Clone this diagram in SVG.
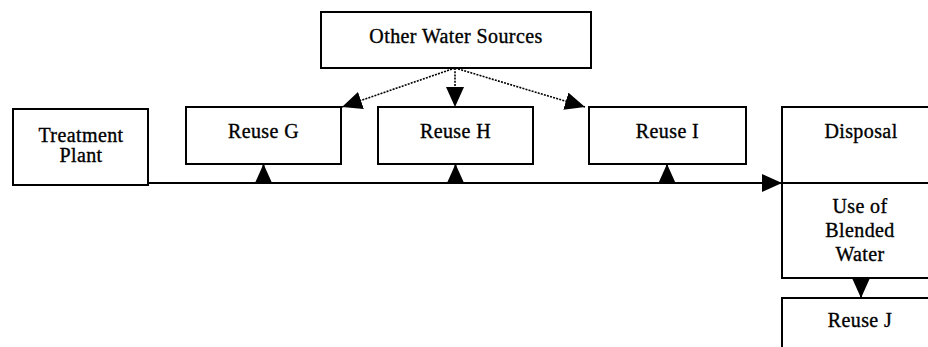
<svg xmlns="http://www.w3.org/2000/svg" width="928" height="347" viewBox="0 0 928 347">
<style>
.box{fill:#fff;stroke:#000;stroke-width:2}
.t{font-family:'Liberation Serif','DejaVu Serif',serif;font-size:20px;letter-spacing:0.4px;fill:#000;stroke:#000;stroke-width:0.35;text-anchor:middle}
.solid{fill:none;stroke:#000;stroke-width:2}
.dot{fill:none;stroke:#000;stroke-width:1.6;stroke-dasharray:2 1.2}
</style>
<defs>
<marker id="ah" markerUnits="userSpaceOnUse" markerWidth="20" markerHeight="18" refX="20" refY="9" orient="auto">
<path d="M0,0 L20,9 L0,18 z" fill="#000"/>
</marker>
</defs>
<g id="other-water-sources">
<rect class="box" x="321" y="12" width="270" height="56"/>
<text class="t" x="456" y="43">Other Water Sources</text>
</g>
<g id="treatment-plant">
<rect class="box" x="13" y="109" width="135" height="76"/>
<text class="t" x="81" y="142">Treatment</text>
<text class="t" x="81" y="162">Plant</text>
</g>
<g id="reuse-g">
<rect class="box" x="186" y="107" width="155" height="57"/>
<text class="t" x="263.5" y="138">Reuse G</text>
</g>
<g id="reuse-h">
<rect class="box" x="378" y="107" width="155" height="57"/>
<text class="t" x="455.5" y="138">Reuse H</text>
</g>
<g id="reuse-i">
<rect class="box" x="589" y="107" width="157" height="57"/>
<text class="t" x="667.5" y="138">Reuse I</text>
</g>
<g id="disposal-blended">
<rect class="box" x="782" y="107" width="160" height="171"/>
<line class="solid" x1="782" y1="183" x2="942" y2="183"/>
<text class="t" x="861" y="138">Disposal</text>
<text class="t" x="860" y="213">Use of</text>
<text class="t" x="860" y="237">Blended</text>
<text class="t" x="860" y="261">Water</text>
</g>
<g id="reuse-j">
<rect class="box" x="782" y="298" width="160" height="60"/>
<text class="t" x="860" y="327">Reuse J</text>
</g>
<g id="connectors">
<line class="solid" x1="148" y1="183" x2="782" y2="183" marker-end="url(#ah)"/>
<line class="solid" x1="263.5" y1="183" x2="263.5" y2="164" marker-end="url(#ah)"/>
<line class="solid" x1="455.5" y1="183" x2="455.5" y2="164" marker-end="url(#ah)"/>
<line class="solid" x1="667" y1="183" x2="667" y2="164" marker-end="url(#ah)"/>
<line class="solid" x1="861" y1="278" x2="861" y2="298" marker-end="url(#ah)"/>
<line class="dot" x1="455" y1="68" x2="342" y2="107" marker-end="url(#ah)"/>
<line class="dot" x1="455" y1="68" x2="455" y2="107" marker-end="url(#ah)"/>
<line class="dot" x1="455" y1="68" x2="585" y2="107" marker-end="url(#ah)"/>
</g>
</svg>
